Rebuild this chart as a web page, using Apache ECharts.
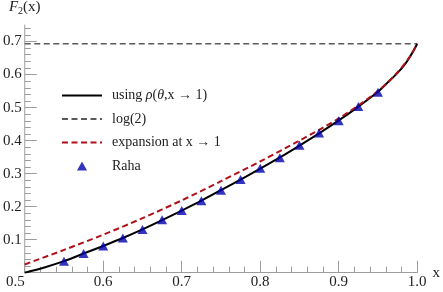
<!DOCTYPE html>
<html>
<head>
<meta charset="utf-8">
<script src="https://cdn.jsdelivr.net/npm/echarts@6/dist/echarts.min.js"></script>
<style>html,body{margin:0;padding:0;background:#fff;}#c{width:443px;height:292px;}</style>
</head>
<body>
<div id="c"></div>
<script>
// ---- data ----
const xTicks = [0.5, 0.6, 0.7, 0.8, 0.9, 1.0];
const yTicks = [0.1, 0.2, 0.3, 0.4, 0.5, 0.6, 0.7];
const curveX = [0.5, 0.525, 0.55, 0.575, 0.6, 0.625, 0.65, 0.675, 0.7, 0.725, 0.75, 0.775, 0.8, 0.825, 0.85, 0.875, 0.9, 0.925, 0.95, 0.962, 0.975, 0.985, 0.991, 0.996, 1.0];
const curveY = [0, 0.016, 0.035, 0.058, 0.081, 0.105, 0.131, 0.159, 0.188, 0.218, 0.250, 0.282, 0.315, 0.349, 0.385, 0.422, 0.461, 0.503, 0.548, 0.575, 0.605, 0.633, 0.655, 0.675, 0.693];
const log2X = [0.5, 1.0];
const log2Y = [0.6931, 0.6931];
const expX = [0.5, 0.55, 0.6, 0.65, 0.7, 0.75, 0.8, 0.85, 0.9, 0.95, 0.975, 0.99, 1.0];
const expY = [0.025, 0.069, 0.115, 0.165, 0.219, 0.277, 0.337, 0.400, 0.467, 0.550, 0.607, 0.652, 0.693];
const rahaX = [0.55, 0.575, 0.6, 0.625, 0.65, 0.675, 0.7, 0.725, 0.75, 0.775, 0.8, 0.825, 0.85, 0.875, 0.9, 0.925, 0.95];
const rahaY = [0.035, 0.058, 0.081, 0.105, 0.131, 0.160, 0.188, 0.218, 0.250, 0.282, 0.316, 0.348, 0.386, 0.423, 0.460, 0.503, 0.546];
const names = ['using ρ(θ,x → 1)', 'log(2)', 'expansion at x → 1', 'Raha'];

const zip = (a, b) => a.map((v, i) => [v, b[i]]);
const minorX = []; for (let i = 1; i < 25; i++) { const v = +(0.5 + i * 0.02).toFixed(2); if (Math.abs(v*10 - Math.round(v*10)) > 1e-6) minorX.push(v); }
const minorY = []; for (let i = 1; i <= 37; i++) { const v = +(i * 0.02).toFixed(2); if (Math.abs(v*10 - Math.round(v*10)) > 1e-6) minorY.push(v); }

const FONT = 'Liberation Serif';
const axisCol = '#9c9c9c';
const labCol = '#222';
const hideSym = {opacity: 0, color: 'rgba(0,0,0,0)', borderColor: 'rgba(0,0,0,0)', borderWidth: 0};

const chart = echarts.init(document.getElementById('c'), null, {renderer: 'canvas'});
chart.setOption({
  animation: false,
  backgroundColor: '#fff',
  grid: {left: 20.5, right: 16.3, top: 22.9, bottom: 19.3, containLabel: false},
  xAxis: [{
    type: 'value', min: 0.5, max: 1.0, position: 'bottom',
    name: 'x', nameLocation: 'end', nameGap: 8,
    nameTextStyle: {fontFamily: FONT, fontSize: 15, color: labCol},
    axisLine: {show: true, lineStyle: {color: axisCol, width: 1}},
    axisTick: {show: true, inside: true, length: 12, customValues: xTicks, lineStyle: {color: axisCol}},
    axisLabel: {show: true, customValues: xTicks, formatter: v => v.toFixed(1), margin: 2, alignMinLabel: 'right',
      fontFamily: FONT, fontSize: 15, color: labCol},
    splitLine: {show: false}
  }, {
    type: 'value', min: 0.5, max: 1.0, position: 'bottom',
    axisLine: {show: false},
    axisTick: {show: true, inside: true, length: 6, customValues: minorX, lineStyle: {color: axisCol}},
    axisLabel: {show: false}, splitLine: {show: false}
  }],
  yAxis: [{
    type: 'value', min: 0, max: 0.75, position: 'left',
    name: '{i|F}{s|2}{n|(x)}', nameLocation: 'end', nameGap: 9,
    nameTextStyle: {align: 'center', rich: {
      i: {fontFamily: FONT, fontSize: 15, fontStyle: 'italic', color: labCol},
      s: {fontFamily: FONT, fontSize: 10, color: labCol, padding: [7, 0, 0, 0]},
      n: {fontFamily: FONT, fontSize: 15, color: labCol}
    }},
    axisLine: {show: true, lineStyle: {color: axisCol, width: 1}},
    axisTick: {show: true, inside: true, length: 12, customValues: yTicks, lineStyle: {color: axisCol}},
    axisLabel: {show: true, customValues: yTicks, formatter: v => v.toFixed(1), margin: 3,
      fontFamily: FONT, fontSize: 15, color: labCol},
    splitLine: {show: false}
  }, {
    type: 'value', min: 0, max: 0.75, position: 'left',
    axisLine: {show: false},
    axisTick: {show: true, inside: true, length: 6, customValues: minorY, lineStyle: {color: axisCol}},
    axisLabel: {show: false}, splitLine: {show: false}
  }],
  legend: {
    orient: 'vertical', left: 56, top: 83.5, itemWidth: 40, itemHeight: 9, itemGap: 9.5,
    selectedMode: false,
    data: [
      {name: names[0], itemStyle: hideSym}, {name: names[1], itemStyle: hideSym}, {name: names[2], itemStyle: hideSym},
      {name: names[3], icon: 'path://M5,0 L10,9 L0,9 Z'}
    ],
    textStyle: {fontFamily: FONT, fontSize: 14, color: labCol, padding: [0, 0, 0, 5],
      rich: {
        n: {fontFamily: FONT, fontSize: 14, color: labCol},
        i: {fontFamily: FONT, fontSize: 14, color: labCol, fontStyle: 'italic'}
      }},
    formatter: function (n) {
      if (n === names[0]) return '{n|using }{i|ρ}{n|(}{i|θ}{n|,x → 1)}';
      return '{n|' + n + '}';
    }
  },
  series: [{
    name: names[0], type: 'line', data: zip(curveX, curveY), showSymbol: false, symbol: 'none',
    smooth: 0.3, lineStyle: {color: '#000', width: 2}, itemStyle: {color: '#000'}, z: 3
  }, {
    name: names[1], type: 'line', data: zip(log2X, log2Y), showSymbol: false, symbol: 'none',
    lineStyle: {color: '#5a5a5a', width: 1.6, type: [6, 3.5]}, itemStyle: {color: '#5a5a5a'}, z: 2
  }, {
    name: names[2], type: 'line', data: zip(expX, expY), showSymbol: false, symbol: 'none',
    smooth: 0.3, lineStyle: {color: '#b01018', width: 2, type: [6, 3.5]}, itemStyle: {color: '#b01018'}, z: 4
  }, {
    name: names[3], type: 'scatter', data: zip(rahaX, rahaY), symbol: 'triangle', symbolSize: [10, 9],
    itemStyle: {color: '#0000aa'}, z: 5
  }]
});
</script>
</body>
</html>
